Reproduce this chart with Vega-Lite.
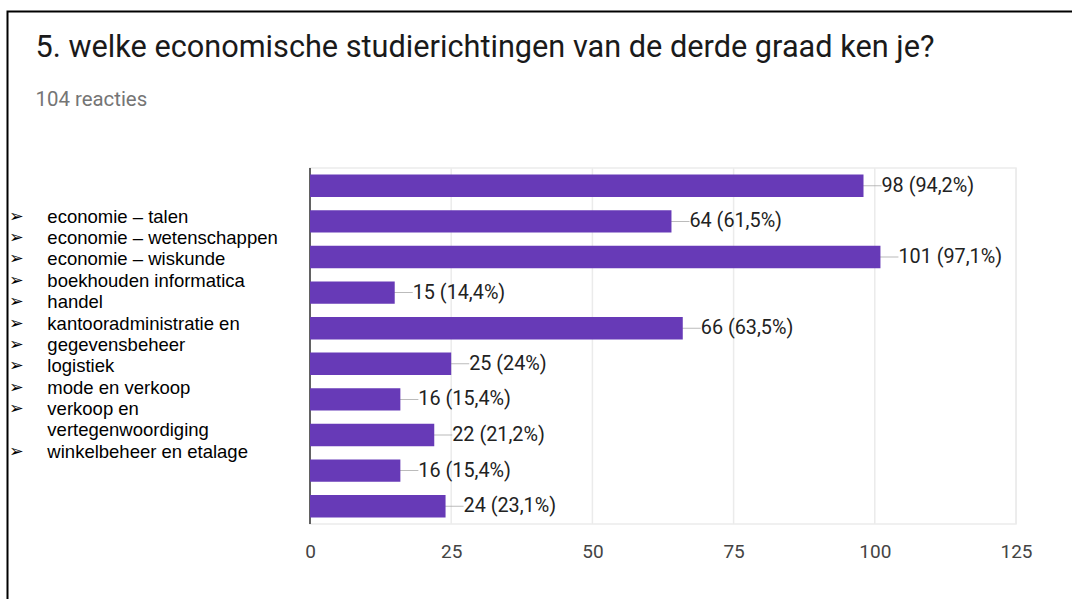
{
  "$schema": "https://vega.github.io/schema/vega-lite/v6.json",
  "width": 1070,
  "height": 593,
  "autosize": {"type": "none"},
  "padding": {"left": 7.5, "top": 11.5, "right": -5.5, "bottom": -5.5},
  "background": "white",
  "config": {"view": {"stroke": "#000000", "strokeWidth": 2, "fill": "white"}},
  "title": {
    "text": "5. welke economische studierichtingen van de derde graad ken je?",
    "subtitle": "104 reacties",
    "anchor": "start",
    "frame": "group",
    "offset": -100,
    "dx": 28,
    "font": "Roboto",
    "fontSize": 30.7,
    "fontWeight": "normal",
    "color": "#1a1a1a",
    "subtitleFont": "Roboto",
    "subtitleFontSize": 20.4,
    "subtitleColor": "#757575",
    "subtitlePadding": 26
  },
  "datasets": {
    "richtingen": [
      {"richting": "economie – talen", "aantal": 98, "label": "98 (94,2%)"},
      {"richting": "economie – wetenschappen", "aantal": 64, "label": "64 (61,5%)"},
      {"richting": "economie – wiskunde", "aantal": 101, "label": "101 (97,1%)"},
      {"richting": "boekhouden informatica", "aantal": 15, "label": "15 (14,4%)"},
      {"richting": "handel", "aantal": 66, "label": "66 (63,5%)"},
      {"richting": "kantooradministratie en gegevensbeheer", "aantal": 25, "label": "25 (24%)"},
      {"richting": "logistiek", "aantal": 16, "label": "16 (15,4%)"},
      {"richting": "mode en verkoop", "aantal": 22, "label": "22 (21,2%)"},
      {"richting": "verkoop en vertegenwoordiging", "aantal": 16, "label": "16 (15,4%)"},
      {"richting": "winkelbeheer en etalage", "aantal": 24, "label": "24 (23,1%)"}
    ],
    "rasterlijnen": [
      {"waarde": 25}, {"waarde": 50}, {"waarde": 75}, {"waarde": 100}, {"waarde": 125}
    ],
    "lijst": [
      {"regel": 1, "teken": "➢", "tekst": "economie – talen"},
      {"regel": 2, "teken": "➢", "tekst": "economie – wetenschappen"},
      {"regel": 3, "teken": "➢", "tekst": "economie – wiskunde"},
      {"regel": 4, "teken": "➢", "tekst": "boekhouden informatica"},
      {"regel": 5, "teken": "➢", "tekst": "handel"},
      {"regel": 6, "teken": "➢", "tekst": "kantooradministratie en"},
      {"regel": 7, "teken": "➢", "tekst": "gegevensbeheer"},
      {"regel": 8, "teken": "➢", "tekst": "logistiek"},
      {"regel": 9, "teken": "➢", "tekst": "mode en verkoop"},
      {"regel": 10, "teken": "➢", "tekst": "verkoop en"},
      {"regel": 11, "teken": "", "tekst": "vertegenwoordiging"},
      {"regel": 12, "teken": "➢", "tekst": "winkelbeheer en etalage"}
    ]
  },
  "resolve": {"scale": {"y": "independent"}},
  "layer": [
    {
      "encoding": {
        "y": {"datum": 0, "type": "quantitative", "scale": {"domain": [0, 1], "range": [156.5, 512.5], "nice": false, "zero": false}, "axis": null},
        "y2": {"datum": 1}
      },
      "layer": [
        {
          "data": {"name": "rasterlijnen"},
          "mark": {"type": "rule", "color": "#ebebeb", "strokeWidth": 1.5},
          "encoding": {
            "x": {"field": "waarde", "type": "quantitative", "scale": {"domain": [-53.56, 135.89], "nice": false, "zero": false}}
          }
        },
        {
          "data": {"name": "richtingen"},
          "transform": [{"aggregate": [{"op": "count", "as": "n"}]}],
          "mark": {"type": "rect", "filled": false, "color": "#ebebeb", "strokeWidth": 1.5},
          "encoding": {
            "x": {"datum": 0, "type": "quantitative", "scale": {"domain": [-53.56, 135.89], "nice": false, "zero": false}},
            "x2": {"datum": 125}
          }
        },
        {
          "data": {"name": "richtingen"},
          "transform": [{"aggregate": [{"op": "count", "as": "n"}]}],
          "mark": {"type": "rule", "color": "#333333", "strokeWidth": 1.5},
          "encoding": {
            "x": {"datum": 0, "type": "quantitative", "scale": {"domain": [-53.56, 135.89], "nice": false, "zero": false}}
          }
        }
      ]
    },
    {
      "data": {"name": "richtingen"},
      "encoding": {
        "y": {"field": "richting", "type": "nominal", "sort": null, "scale": {"range": [156.5, 512.5], "paddingInner": 0.37, "paddingOuter": 0.185}, "axis": null}
      },
      "layer": [
        {
          "mark": {"type": "tick", "orient": "horizontal", "size": 36, "thickness": 1, "color": "#9e9e9e"},
          "encoding": {
            "x": {"field": "aantal", "type": "quantitative", "scale": {"domain": [-53.56, 135.89], "nice": false, "zero": false}}
          }
        },
        {
          "mark": {"type": "bar", "color": "#673ab7"},
          "encoding": {
            "x": {
              "field": "aantal", "type": "quantitative",
              "scale": {"domain": [-53.56, 135.89], "nice": false, "zero": false},
              "axis": {"values": [0, 25, 50, 75, 100, 125], "domain": false, "ticks": false, "grid": false, "title": null, "labelFont": "Roboto", "labelFontSize": 19, "labelColor": "#444444", "labelPadding": 0, "offset": -62.5, "labelFlush": false}
            }
          }
        },
        {
          "mark": {"type": "text", "align": "left", "baseline": "middle", "dx": 18, "font": "Roboto", "fontSize": 19.8, "color": "#222222"},
          "encoding": {
            "x": {"field": "aantal", "type": "quantitative", "scale": {"domain": [-53.56, 135.89], "nice": false, "zero": false}},
            "text": {"field": "label", "type": "nominal"}
          }
        }
      ]
    },
    {
      "data": {"name": "lijst"},
      "encoding": {
        "y": {"field": "regel", "type": "ordinal", "scale": {"type": "point", "range": [205.2, 440.2], "padding": 0}, "axis": null}
      },
      "layer": [
        {
          "mark": {"type": "text", "align": "left", "baseline": "middle", "font": "DejaVu Sans", "fontSize": 17.5, "color": "#000000"},
          "encoding": {
            "x": {"datum": -53.3, "type": "quantitative", "scale": {"domain": [-53.56, 135.89], "nice": false, "zero": false}},
            "text": {"field": "teken", "type": "nominal"}
          }
        },
        {
          "mark": {"type": "text", "align": "left", "baseline": "middle", "font": "Liberation Sans", "fontSize": 18.5, "color": "#000000"},
          "encoding": {
            "x": {"datum": -46.5, "type": "quantitative", "scale": {"domain": [-53.56, 135.89], "nice": false, "zero": false}},
            "text": {"field": "tekst", "type": "nominal"}
          }
        }
      ]
    }
  ]
}
